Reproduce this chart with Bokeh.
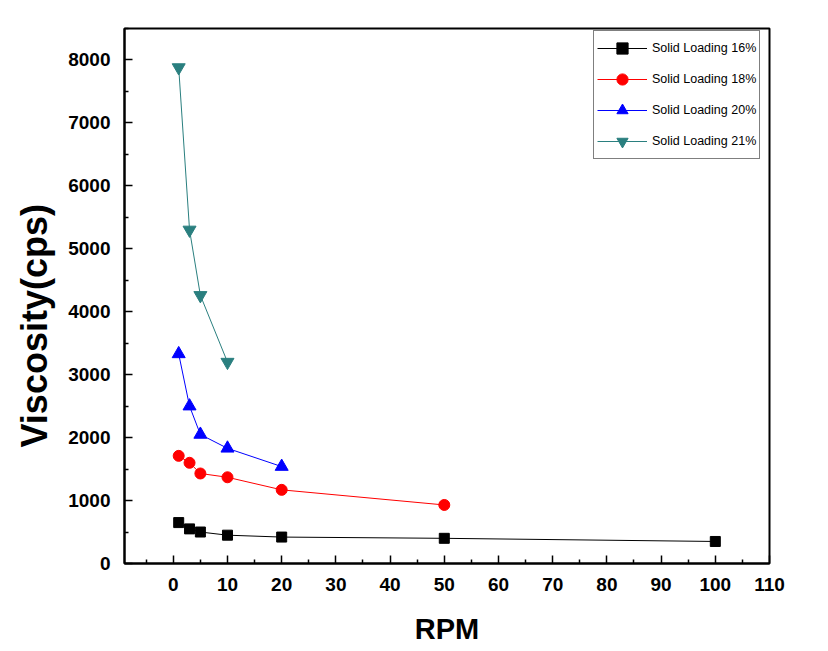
from bokeh.plotting import figure
from bokeh.models import Legend, LegendItem, FixedTicker, Range1d, Title
from bokeh.embed import file_html
from bokeh.resources import INLINE

# ---- data ----
rpm_16 = [1, 3, 5, 10, 20, 50, 100]
visc_16 = [650, 550, 500, 450, 420, 400, 350]
rpm_18 = [1, 3, 5, 10, 20, 50]
visc_18 = [1710, 1600, 1430, 1370, 1170, 930]
rpm_20 = [1, 3, 5, 10, 20]
visc_20 = [3330, 2500, 2050, 1830, 1540]
rpm_21 = [1, 3, 5, 10]
visc_21 = [7880, 5300, 4260, 3200]
series_names = ["Solid Loading 16%", "Solid Loading 18%", "Solid Loading 20%", "Solid Loading 21%"]
x_ticks = [0, 10, 20, 30, 40, 50, 60, 70, 80, 90, 100, 110]
x_minor = [-5, 5, 15, 25, 35, 45, 55, 65, 75, 85, 95, 105]
y_ticks = [0, 1000, 2000, 3000, 4000, 5000, 6000, 7000, 8000]
y_minor = [500, 1500, 2500, 3500, 4500, 5500, 6500, 7500, 8500]
x_title = "RPM"
y_title = "Viscosity(cps)"

FONT = "Liberation Sans"

p = figure(width=820, height=648, output_backend="svg", toolbar_location=None,
           x_range=Range1d(-9, 110), y_range=Range1d(0, 8500),
           min_border_left=124, min_border_right=51, min_border_top=28, min_border_bottom=85)
p.background_fill_color = "white"
p.border_fill_color = "white"
p.outline_line_color = "black"
p.outline_line_width = 2
p.xgrid.visible = False
p.ygrid.visible = False

p.xaxis.ticker = FixedTicker(ticks=x_ticks, minor_ticks=x_minor)
p.yaxis.ticker = FixedTicker(ticks=y_ticks, minor_ticks=y_minor)
for ax in (p.xaxis, p.yaxis):
    ax.axis_line_width = 2
    ax.axis_line_color = "black"
    ax.major_tick_in = 8
    ax.major_tick_out = 0
    ax.minor_tick_in = 4
    ax.minor_tick_out = 0
    ax.major_tick_line_width = 1.5
    ax.minor_tick_line_width = 1.5
    ax.major_label_text_font = FONT
    ax.major_label_text_font_style = "bold"
    ax.major_label_text_font_size = "19px"
    ax.major_label_text_color = "black"
p.xaxis.major_label_standoff = 14
p.yaxis.major_label_standoff = 14

p.xaxis.axis_label = x_title
p.xaxis.axis_label_standoff = 19
p.xaxis.axis_label_text_font = FONT
p.xaxis.axis_label_text_font_style = "bold"
p.xaxis.axis_label_text_font_size = "29px"
p.xaxis.axis_label_text_color = "black"

ytitle = Title(text=y_title, align="left", offset=116, standoff=22,
               text_font=FONT, text_font_style="bold", text_font_size="36px",
               text_color="black")
p.add_layout(ytitle, "left")

colors = ["black", "#FF0000", "#0000FF", "#2A7F7F"]
markers = ["square", "circle", "triangle", "inverted_triangle"]
sizes = [10, 11, 13, 13]
data = [(rpm_16, visc_16), (rpm_18, visc_18), (rpm_20, visc_20), (rpm_21, visc_21)]

items = []
for (xs, ys), c, m, s, name in zip(data, colors, markers, sizes, series_names):
    l = p.line(xs, ys, line_color=c, line_width=1)
    sc = p.scatter(xs, ys, marker=m, size=s, fill_color=c, line_color=c)
    items.append(LegendItem(label=name, renderers=[l, sc]))

legend = Legend(items=items, location=(469, 404))
legend.glyph_width = 50
legend.glyph_height = 28
legend.label_height = 28
legend.spacing = 3
legend.padding = 3
legend.margin = 0
legend.label_standoff = 5
legend.label_text_font = FONT
legend.label_text_font_size = "12.5px"
legend.label_text_color = "black"
legend.border_line_color = "black"
legend.border_line_width = 1
legend.background_fill_alpha = 1
p.add_layout(legend, "center")

open("out.html", "w").write(file_html(p, INLINE))
